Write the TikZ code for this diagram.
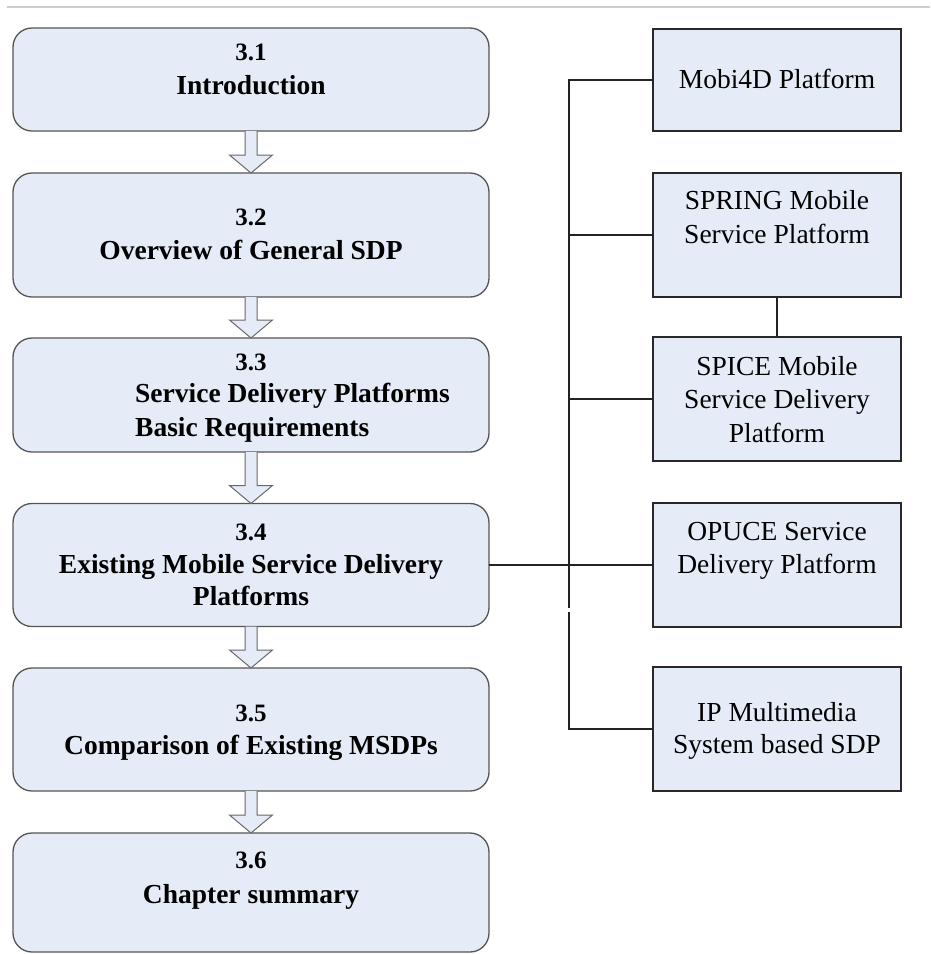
\documentclass[tikz,border=0pt]{standalone}
\usepackage{fontspec}
\setmainfont{Liberation Serif}
\usetikzlibrary{calc}
\definecolor{boxfill}{RGB}{229,236,247}
\definecolor{lborder}{RGB}{85,85,85}
\definecolor{rborder}{RGB}{40,40,40}
\definecolor{aborder}{RGB}{105,105,105}
\definecolor{topline}{RGB}{205,205,205}
\definecolor{connc}{RGB}{35,35,35}
\tikzset{
  lbox/.style={draw=lborder, fill=boxfill, line width=1.3pt, rounded corners=19pt, inner sep=0pt, outer sep=0pt, minimum width=476pt},
  rbox/.style={draw=rborder, fill=boxfill, line width=2pt, inner sep=0pt, outer sep=0pt, minimum width=248pt},
  numtxt/.style={anchor=base, inner sep=0pt, font=\fontsize{25}{30}\selectfont\bfseries},
  ltxt/.style={anchor=base, inner sep=0pt, font=\fontsize{27.5}{33}\selectfont\bfseries},
  rtxt/.style={anchor=base, inner sep=0pt, font=\fontsize{27.5}{33}\selectfont},
  barrow/.style={draw=aborder, fill=boxfill, line width=1pt, line join=miter},
  conn/.style={draw=connc, line width=1.8pt},
}
\newcommand{\blockarrow}[2]{%
  \filldraw[barrow] ($(#1.south)+(-6,0)$) -- ($(#2.north)+(-6,-18)$) -- ($(#2.north)+(-21.5,-18)$) -- (#2.north) -- ($(#2.north)+(21.5,-18)$) -- ($(#2.north)+(6,-18)$) -- ($(#1.south)+(6,0)$);%
}
\begin{document}
\begin{tikzpicture}[x=1pt,y=-1pt]
\useasboundingbox (0,0) rectangle (930,954);
\draw[topline, line width=1.5pt] (7,7) -- (930,7);

% left boxes
\node[lbox, minimum height=103pt] (b1) at (251,79.5) {};
\node[lbox, minimum height=124pt] (b2) at (251,235) {};
\node[lbox, minimum height=114pt] (b3) at (251,395) {};
\node[lbox, minimum height=123pt] (b4) at (251,565) {};
\node[lbox, minimum height=123pt] (b5) at (251,729.5) {};
\node[lbox, minimum height=119pt] (b6) at (251,892.5) {};

% right boxes
\node[rbox, minimum height=102pt] (r1) at (777,80) {};
\node[rbox, minimum height=124pt] (r2) at (777,235) {};
\node[rbox, minimum height=124pt] (r3) at (777,399) {};
\node[rbox, minimum height=124pt] (r4) at (777,565) {};
\node[rbox, minimum height=124pt] (r5) at (777,729) {};

% block arrows
\blockarrow{b1}{b2}
\blockarrow{b2}{b3}
\blockarrow{b3}{b4}
\blockarrow{b4}{b5}
\blockarrow{b5}{b6}

% connectors
\coordinate (gapA) at (569,608);
\coordinate (gapB) at (569,612);
\draw[conn] (r1.west) -| (gapA);
\draw[conn] (gapB) |- (r5.west);
\draw[conn] (r2.west) -- (r2.west -| gapA);
\draw[conn] (r3.west) -- (r3.west -| gapA);
\draw[conn] (b4.east) -- (r4.west);
\draw[conn] (r2.south) -- (r3.north);

% left texts
\node[numtxt] (n1) at (251,60) {3.1};
\node[ltxt] (t1) at (251,94) {Introduction};
\node[numtxt] (n2) at (251,225) {3.2};
\node[ltxt] (t2) at (251,259) {Overview of General SDP};
\node[numtxt] (n3) at (251,370) {3.3};
\node[ltxt, anchor=base west] (t3a) at (135,402) {Service Delivery Platforms};
\node[ltxt, anchor=base west] (t3b) at (135,436) {Basic Requirements};
\node[numtxt] (n4) at (251,540) {3.4};
\node[ltxt] (t4a) at (251,573) {Existing Mobile Service Delivery};
\node[ltxt] (t4b) at (251,605) {Platforms};
\node[numtxt] (n5) at (251,721) {3.5};
\node[ltxt] (t5) at (251,754) {Comparison of Existing MSDPs};
\node[numtxt] (n6) at (251,868) {3.6};
\node[ltxt] (t6) at (251,903) {Chapter summary};

% right texts
\node[rtxt] (s1) at (777,88) {Mobi4D Platform};
\node[rtxt] (s2a) at (777,209) {SPRING Mobile};
\node[rtxt] (s2b) at (777,243) {Service Platform};
\node[rtxt] (s3a) at (777,375) {SPICE Mobile};
\node[rtxt] (s3b) at (777,408) {Service Delivery};
\node[rtxt] (s3c) at (777,442) {Platform};
\node[rtxt] (s4a) at (777,540) {OPUCE Service};
\node[rtxt] (s4b) at (777,573) {Delivery Platform};
\node[rtxt] (s5a) at (777,721) {IP Multimedia};
\node[rtxt] (s5b) at (777,753) {System based SDP};
\end{tikzpicture}
\end{document}
